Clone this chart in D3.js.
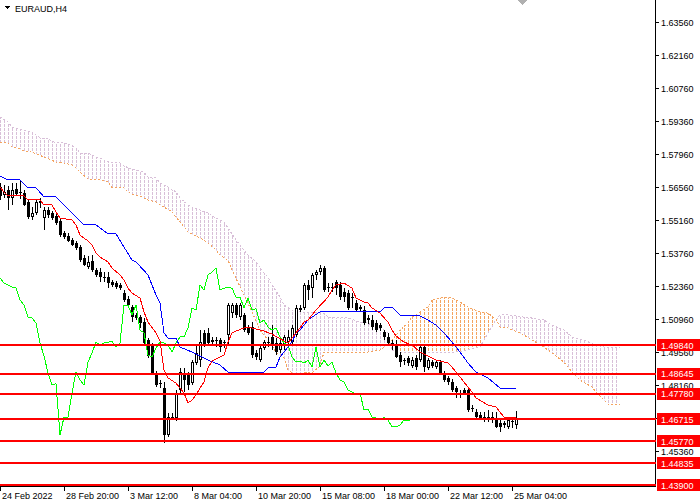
<!DOCTYPE html>
<html lang="en">
<head>
<meta charset="UTF-8">
<title>EURAUD,H4</title>
<script src="https://d3js.org/d3.v7.min.js"></script>
<style>
  body { margin: 0; background: #fff; }
  svg { display: block; font-family: "Liberation Sans", Arial, sans-serif; shape-rendering: crispEdges; }
  .lbl { font-size: 9px; fill: #000; }
</style>
</head>
<body>
<svg id="chart" width="700" height="500"></svg>
<script>
// H4 bars, [open, high, low, close], bar 0 = 24 Feb 04:00
const ohlc = [
  [1.5656,1.5673,1.5601,1.5618],[1.5622,1.5665,1.5609,1.5635],[1.5643,1.5660,1.5558,1.5609],[1.5609,1.5673,1.5580,1.5643],
  [1.5648,1.5673,1.5618,1.5626],[1.5635,1.5686,1.5605,1.5631],[1.5631,1.5643,1.5575,1.5580],[1.5592,1.5601,1.5520,1.5529],
  [1.5529,1.5571,1.5516,1.5546],[1.5546,1.5601,1.5537,1.5592],[1.5597,1.5609,1.5567,1.5588],[1.5524,1.5571,1.5474,1.5558],
  [1.5558,1.5571,1.5524,1.5537],[1.5546,1.5554,1.5516,1.5524],[1.5533,1.5546,1.5495,1.5503],[1.5512,1.5524,1.5444,1.5452],
  [1.5461,1.5469,1.5435,1.5444],[1.5448,1.5461,1.5423,1.5427],[1.5431,1.5440,1.5406,1.5410],[1.5418,1.5427,1.5389,1.5397],
  [1.5401,1.5410,1.5338,1.5346],[1.5355,1.5367,1.5321,1.5325],[1.5316,1.5363,1.5308,1.5338],[1.5342,1.5367,1.5295,1.5304],
  [1.5304,1.5312,1.5274,1.5283],[1.5295,1.5312,1.5253,1.5274],[1.5274,1.5295,1.5253,1.5270],[1.5274,1.5295,1.5227,1.5249],
  [1.5253,1.5261,1.5232,1.5240],[1.5249,1.5257,1.5223,1.5232],[1.5240,1.5249,1.5219,1.5227],[1.5206,1.5219,1.5168,1.5177],
  [1.5181,1.5193,1.5143,1.5155],[1.5147,1.5155,1.5083,1.5104],[1.5113,1.5121,1.5092,1.5100],[1.5104,1.5113,1.5058,1.5079],
  [1.5083,1.5100,1.4986,1.4994],[1.5007,1.5015,1.4930,1.4939],[1.4986,1.4994,1.4858,1.4867],[1.4867,1.4875,1.4807,1.4816],
  [1.4824,1.4837,1.4803,1.4822],[1.4803,1.4829,1.4570,1.4604],[1.4604,1.4697,1.4595,1.4680],[1.4678,1.4697,1.4667,1.4680],
  [1.4676,1.4795,1.4663,1.4782],[1.4795,1.4888,1.4782,1.4871],[1.4867,1.4888,1.4786,1.4837],[1.4858,1.4871,1.4795,1.4816],
  [1.4824,1.4922,1.4816,1.4913],[1.4909,1.4986,1.4901,1.4952],[1.4922,1.5049,1.4892,1.4998],[1.5037,1.5049,1.4977,1.4986],
  [1.5037,1.5058,1.4986,1.4994],[1.5007,1.5020,1.4986,1.4998],[1.5007,1.5020,1.4977,1.5001],[1.5007,1.5015,1.4956,1.4977],
  [1.4998,1.5007,1.4973,1.4994],[1.5028,1.5164,1.4986,1.5155],[1.5121,1.5164,1.5100,1.5155],[1.5155,1.5164,1.5100,1.5113],
  [1.5104,1.5164,1.5092,1.5155],[1.5113,1.5121,1.5041,1.5049],[1.5058,1.5070,1.5028,1.5037],[1.5062,1.5083,1.4930,1.4943],
  [1.4952,1.4964,1.4922,1.4935],[1.4922,1.4986,1.4913,1.4973],[1.4973,1.5007,1.4964,1.4998],[1.4998,1.5020,1.4977,1.4994],
  [1.5020,1.5070,1.4964,1.4986],[1.4994,1.5015,1.4943,1.4956],[1.4964,1.5007,1.4952,1.4994],[1.4986,1.5028,1.4964,1.5020],
  [1.4998,1.5049,1.4986,1.5020],[1.4998,1.5070,1.4986,1.5058],[1.5028,1.5155,1.5020,1.5143],[1.5143,1.5155,1.5126,1.5134],
  [1.5143,1.5249,1.5134,1.5240],[1.5240,1.5261,1.5177,1.5219],[1.5227,1.5291,1.5185,1.5283],[1.5283,1.5304,1.5261,1.5295],
  [1.5295,1.5325,1.5283,1.5312],[1.5312,1.5321,1.5210,1.5219],[1.5232,1.5249,1.5210,1.5227],[1.5232,1.5249,1.5210,1.5230],
  [1.5253,1.5261,1.5198,1.5227],[1.5240,1.5253,1.5177,1.5189],[1.5210,1.5227,1.5168,1.5189],[1.5206,1.5219,1.5134,1.5143],
  [1.5189,1.5206,1.5143,1.5185],[1.5164,1.5177,1.5126,1.5134],[1.5147,1.5155,1.5126,1.5140],[1.5134,1.5151,1.5070,1.5079],
  [1.5100,1.5113,1.5075,1.5092],[1.5092,1.5113,1.5049,1.5062],[1.5079,1.5092,1.5041,1.5049],[1.5070,1.5079,1.5045,1.5058],
  [1.5041,1.5049,1.5007,1.5020],[1.5020,1.5037,1.4986,1.4994],[1.4994,1.5007,1.4964,1.4986],[1.4986,1.5007,1.4930,1.4935],
  [1.4943,1.4956,1.4892,1.4913],[1.4922,1.4930,1.4901,1.4918],[1.4930,1.4939,1.4896,1.4909],[1.4896,1.4935,1.4888,1.4922],
  [1.4930,1.4943,1.4880,1.4892],[1.4922,1.4986,1.4913,1.4977],[1.4977,1.4986,1.4871,1.4892],[1.4888,1.4930,1.4880,1.4922],
  [1.4913,1.4922,1.4888,1.4896],[1.4892,1.4922,1.4884,1.4913],[1.4913,1.4922,1.4858,1.4867],[1.4867,1.4875,1.4829,1.4837],
  [1.4846,1.4854,1.4816,1.4829],[1.4829,1.4841,1.4786,1.4795],[1.4803,1.4812,1.4761,1.4786],[1.4782,1.4795,1.4761,1.4778],
  [1.4795,1.4803,1.4774,1.4782],[1.4795,1.4803,1.4701,1.4710],[1.4718,1.4731,1.4701,1.4714],[1.4701,1.4714,1.4672,1.4680],
  [1.4689,1.4701,1.4667,1.4676],[1.4680,1.4701,1.4659,1.4667],[1.4667,1.4710,1.4659,1.4680],[1.4680,1.4701,1.4655,1.4667],
  [1.4676,1.4701,1.4633,1.4638],[1.4655,1.4667,1.4616,1.4638],[1.4655,1.4663,1.4633,1.4646],[1.4638,1.4680,1.4629,1.4667],
  [1.4659,1.4676,1.4633,1.4663],[1.4646,1.4706,1.4629,1.4676]
];

// Ichimoku lines, [bar, price]
const tenkan = [
  [0,1.5656],[1,1.5635],[2,1.5618],[6,1.5618],[7,1.5601],[10,1.5601],[11,1.5580],[13,1.5580],[14,1.5550],[15,1.5524],
  [18,1.5516],[19,1.5495],[20,1.5452],[22,1.5427],[23,1.5410],[24,1.5376],[25,1.5359],[27,1.5338],[28,1.5312],[30,1.5283],
  [31,1.5261],[32,1.5227],[33,1.5206],[35,1.5185],[36,1.5126],[37,1.5083],[39,1.5037],[40,1.5003],[41,1.4880],[42,1.4846],
  [44,1.4824],[46,1.4782],[47,1.4740],[48,1.4752],[49,1.4774],[50,1.4803],[51,1.4829],[52,1.4888],[53,1.4918],[55,1.4935],
  [56,1.4943],[57,1.4998],[58,1.5037],[59,1.5045],[61,1.5058],[63,1.5058],[66,1.5045],[68,1.5032],[71,1.5003],[72,1.4994],
  [73,1.5015],[74,1.5037],[75,1.5058],[76,1.5083],[77,1.5092],[79,1.5134],[82,1.5189],[83,1.5219],[84,1.5240],[86,1.5249],
  [88,1.5227],[89,1.5185],[91,1.5168],[92,1.5164],[93,1.5143],[95,1.5121],[97,1.5083],[98,1.5049],[99,1.5024],[101,1.4998],
  [103,1.4986],[105,1.4956],[107,1.4939],[109,1.4922],[112,1.4909],[113,1.4892],[115,1.4850],[117,1.4807],[118,1.4786],
  [119,1.4761],[122,1.4731],[124,1.4723],[125,1.4701],[126,1.4680],[129,1.4680]
];
const kijun = [
  [0,1.5703],[2,1.5686],[5,1.5686],[7,1.5652],[9,1.5652],[11,1.5614],[14,1.5614],[16,1.5580],[21,1.5495],[24,1.5495],
  [27,1.5457],[29,1.5457],[33,1.5346],[34,1.5338],[37,1.5283],[39,1.5198],[40,1.5164],[41,1.5037],[42,1.5015],[44,1.5015],
  [45,1.4977],[48,1.4956],[52,1.4922],[55,1.4901],[57,1.4871],[66,1.4871],[67,1.4888],[69,1.4892],[70,1.4935],[72,1.4977],
  [73,1.4998],[74,1.5037],[75,1.5049],[77,1.5092],[78,1.5104],[80,1.5126],[95,1.5126],[96,1.5143],[98,1.5147],[100,1.5113],
  [105,1.5109],[107,1.5092],[109,1.5070],[111,1.5037],[113,1.4998],[115,1.4956],[117,1.4909],[119,1.4871],[122,1.4846],
  [125,1.4803],[129,1.4803]
];
// Senkou spans, already shifted 26 bars ahead
const spanA = [
  [0,1.5847],[2,1.5843],[3,1.5826],[5,1.5817],[6,1.5809],[8,1.5804],[11,1.5783],[14,1.5762],[16,1.5758],[18,1.5749],
  [19,1.5737],[20,1.5720],[22,1.5690],[25,1.5686],[27,1.5677],[28,1.5652],[31,1.5652],[32,1.5635],[33,1.5626],[35,1.5618],
  [37,1.5601],[39,1.5592],[41,1.5571],[43,1.5550],[44,1.5529],[46,1.5486],[47,1.5465],[50,1.5440],[52,1.5418],[54,1.5389],
  [55,1.5367],[57,1.5346],[58,1.5304],[61,1.5198],[63,1.5126],[65,1.5049],[67,1.5007],[69,1.4956],[71,1.4930],[72,1.4880],
  [74,1.4858],[77,1.4871],[78,1.4867],[80,1.4896],[81,1.4956],[86,1.4956],[90,1.4952],[92,1.4956],[95,1.4964],[97,1.4986],
  [98,1.5007],[99,1.5028],[100,1.5049],[102,1.5079],[103,1.5104],[105,1.5126],[107,1.5147],[108,1.5177],[111,1.5189],
  [113,1.5185],[115,1.5168],[117,1.5147],[120,1.5126],[122,1.5121],[124,1.5096],[125,1.5062],[127,1.5058],[131,1.5028],
  [133,1.5007],[136,1.4977],[138,1.4952],[141,1.4913],[143,1.4871],[145,1.4837],[148,1.4807],[149,1.4786],[151,1.4752],
  [152,1.4735],[155,1.4735]
];
const spanB = [
  [0,1.5953],[2,1.5932],[3,1.5911],[4,1.5906],[6,1.5898],[8,1.5889],[10,1.5864],[12,1.5860],[14,1.5843],[16,1.5843],
  [18,1.5834],[19,1.5821],[20,1.5800],[22,1.5800],[24,1.5783],[26,1.5771],[28,1.5758],[30,1.5758],[32,1.5737],[34,1.5728],
  [36,1.5720],[37,1.5698],[39,1.5694],[40,1.5673],[42,1.5656],[44,1.5635],[45,1.5609],[47,1.5580],[48,1.5571],[50,1.5558],
  [52,1.5546],[54,1.5524],[56,1.5507],[57,1.5482],[59,1.5431],[61,1.5389],[62,1.5367],[64,1.5338],[66,1.5291],[67,1.5274],
  [68,1.5240],[70,1.5189],[71,1.5155],[73,1.5134],[75,1.5126],[81,1.5121],[82,1.5104],[87,1.5100],[90,1.5083],[92,1.5079],
  [94,1.5058],[96,1.5049],[97,1.5037],[98,1.4964],[100,1.4956],[114,1.4956],[117,1.4964],[120,1.4977],[122,1.5037],
  [124,1.5092],[125,1.5113],[127,1.5113],[131,1.5104],[133,1.5100],[136,1.5092],[138,1.5070],[141,1.5049],[143,1.5020],
  [146,1.5007],[148,1.4994],[151,1.4977],[155,1.4973]
];
const chikouShift = 26;

const levels = [1.49840, 1.48645, 1.47780, 1.46715, 1.45770, 1.44835, 1.43900];
const priceTicks = ["1.63560","1.62160","1.60760","1.59360","1.57960","1.56560","1.55160",
                    "1.53760","1.52360","1.50960","1.49560","1.48160","1.46760","1.45360"];
const timeTickBars = [0, 16, 32, 48, 64, 80, 96, 112, 128];
const timeTickLabels = ["24 Feb 2022","28 Feb 20:00","3 Mar 12:00","8 Mar 04:00","10 Mar 20:00",
                        "15 Mar 08:00","18 Mar 00:00","22 Mar 12:00","25 Mar 04:00"];

const plotW = 655, plotH = 486;
const svg = d3.select("#chart");
const x = d3.scaleLinear().domain([0, 1]).range([0, 4]); // 4px per bar
const y = d3.scaleLinear().domain([1.4396, 1.6356]).range([484, 22]);

const defs = svg.append("defs");
defs.append("clipPath").attr("id", "plot-clip")
  .append("rect").attr("width", plotW).attr("height", plotH);

function hatch(id, color) {
  const p = defs.append("pattern").attr("id", id)
    .attr("patternUnits", "userSpaceOnUse").attr("width", 4).attr("height", 4);
  p.append("rect").attr("x", 0).attr("y", 0).attr("width", 1).attr("height", 3).attr("fill", color);
}
hatch("hatch-thistle", "#D8BFD8");
hatch("hatch-sandy", "#F4A460");

const up = d3.area().x(d => x(d[0])).y0(0).y1(d => y(d[1]));
const down = d3.area().x(d => x(d[0])).y0(plotH).y1(d => y(d[1]));
defs.append("clipPath").attr("id", "above-a").append("path").attr("d", up(spanA));
defs.append("clipPath").attr("id", "below-a").append("path").attr("d", down(spanA));

const plot = svg.append("g").attr("clip-path", "url(#plot-clip)");

// cloud: thistle where B above A, sandy brown where A above B
plot.append("g").attr("clip-path", "url(#above-a)")
  .append("path").attr("d", down(spanB)).attr("fill", "url(#hatch-thistle)");
plot.append("g").attr("clip-path", "url(#below-a)")
  .append("path").attr("d", up(spanB)).attr("fill", "url(#hatch-sandy)");

const line = d3.line().x(d => x(d[0])).y(d => y(d[1]));
plot.append("path").attr("d", line(spanB)).attr("fill", "none")
  .attr("stroke", "#D8BFD8").attr("stroke-dasharray", "2,2");
plot.append("path").attr("d", line(spanA)).attr("fill", "none")
  .attr("stroke", "#F4A460").attr("stroke-dasharray", "2,2");

// candles
const cg = plot.append("g");
ohlc.forEach((d, i) => {
  const [o, h, l, c] = d;
  const cx = x(i);
  cg.append("line").attr("x1", cx + 0.5).attr("x2", cx + 0.5)
    .attr("y1", y(h)).attr("y2", y(l)).attr("stroke", "#000");
  if (c < o) {
    cg.append("rect").attr("x", cx - 1).attr("y", y(o)).attr("width", 3)
      .attr("height", Math.max(1, y(c) - y(o))).attr("fill", "#000");
  } else if (c > o && y(o) - y(c) > 2) {
    cg.append("rect").attr("x", cx - 0.5).attr("y", y(c) + 0.5).attr("width", 2)
      .attr("height", y(o) - y(c) - 1).attr("fill", "#fff").attr("stroke", "#000");
  } else {
    cg.append("rect").attr("x", cx - 1).attr("y", Math.min(y(o), y(c))).attr("width", 3)
      .attr("height", Math.max(1, Math.abs(y(o) - y(c)))).attr("fill", "#000");
  }
});

// chikou = close plotted 26 bars back
const chikou = ohlc.slice(chikouShift).map((d, i) => [i, d[3]]);
plot.append("path").attr("d", line(chikou)).attr("fill", "none").attr("stroke", "#00FF00");
plot.append("path").attr("d", line(kijun)).attr("fill", "none").attr("stroke", "#0000FF");
plot.append("path").attr("d", line(tenkan)).attr("fill", "none").attr("stroke", "#FF0000");

// price axis
svg.append("line").attr("x1", plotW + 0.5).attr("x2", plotW + 0.5).attr("y1", 0).attr("y2", plotH + 1).attr("stroke", "#000");
svg.append("line").attr("x1", 0).attr("x2", plotW + 1).attr("y1", plotH + 0.5).attr("y2", plotH + 0.5).attr("stroke", "#000");
priceTicks.forEach(t => {
  const ty = Math.round(y(+t)) + 0.5;
  svg.append("line").attr("x1", plotW + 1).attr("x2", plotW + 4).attr("y1", ty).attr("y2", ty).attr("stroke", "#000");
  svg.append("text").attr("class", "lbl").attr("x", plotW + 6).attr("y", ty + 3.5).text(t);
});

// time axis
timeTickBars.forEach((b, i) => {
  const tx = x(b) + 0.5;
  svg.append("line").attr("x1", tx).attr("x2", tx).attr("y1", plotH + 1).attr("y2", plotH + 5).attr("stroke", "#000");
  svg.append("text").attr("class", "lbl").attr("x", x(b) + 2).attr("y", 499).text(timeTickLabels[i]);
});

// horizontal levels with their price tags
levels.forEach(v => {
  const ly = y(v);
  svg.append("line").attr("x1", 0).attr("x2", plotW + 1).attr("y1", ly).attr("y2", ly)
    .attr("stroke", "#FF0000").attr("stroke-width", 2);
  svg.append("rect").attr("x", plotW + 2).attr("y", ly - 6).attr("width", 700 - plotW - 2).attr("height", 12).attr("fill", "#FF0000");
  svg.append("text").attr("class", "lbl").attr("x", plotW + 6).attr("y", ly + 3.5)
    .style("fill", "#fff").text(v.toFixed(5));
});

// header and shift marker
svg.append("path").attr("d", "M4,6 L10,6 L7,9 Z").attr("fill", "#000");
svg.append("text").attr("class", "lbl").attr("x", 15).attr("y", 12).text("EURAUD,H4");
svg.append("path").attr("d", "M517,0 L527,0 L522,5 Z").attr("fill", "#b0b0b0");
</script>
</body>
</html>
